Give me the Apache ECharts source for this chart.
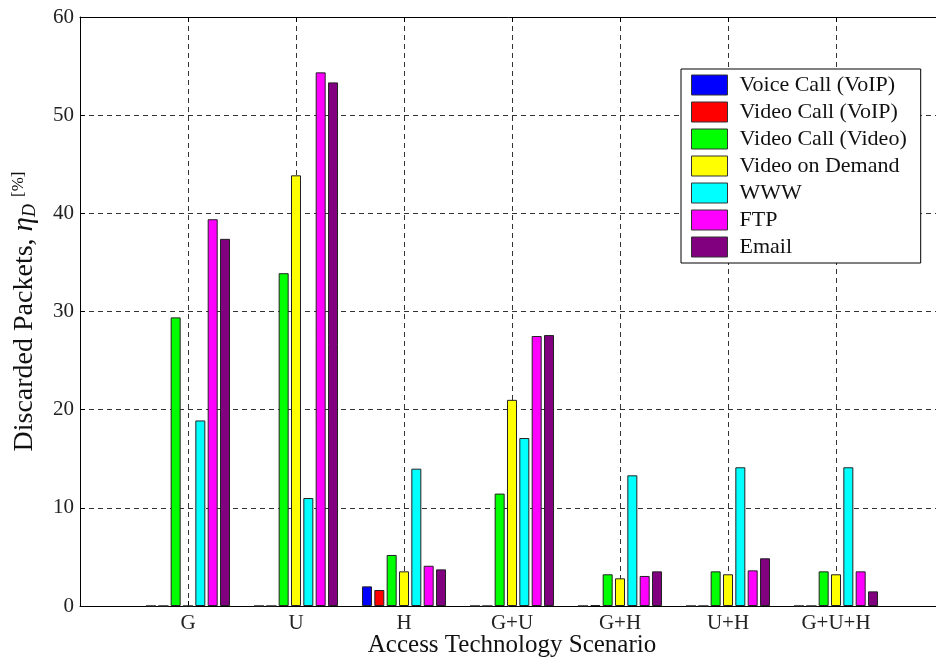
<!DOCTYPE html>
<html>
<head>
<meta charset="utf-8">
<script src="https://cdn.jsdelivr.net/npm/echarts@6/dist/echarts.min.js"></script>
<style>
  html, body { margin: 0; padding: 0; background: #fff; }
  #chart { width: 936px; height: 661px; }
</style>
</head>
<body>
<div id="chart"></div>
<script>
// Access technology scenarios on the horizontal axis
const categories = ['G', 'U', 'H', 'G+U', 'G+H', 'U+H', 'G+U+H'];

// Discarded packets per service class, in percent
const voiceCallVoip  = [0, 0, 2.0, 0, 0, 0, 0];
const videoCallVoip  = [0, 0, 1.63, 0, 0.1, 0, 0];
const videoCallVideo = [29.4, 33.9, 5.2, 11.45, 3.23, 3.53, 3.53];
const videoOnDemand  = [0, 43.87, 3.53, 21.0, 2.82, 3.23, 3.23];
const www            = [18.9, 11.0, 13.99, 17.11, 13.31, 14.13, 14.13];
const ftp            = [39.4, 54.36, 4.1, 27.5, 3.06, 3.63, 3.53];
const email          = [37.4, 53.34, 3.73, 27.6, 3.53, 4.86, 1.49];

const seriesNames = ['Voice Call (VoIP)', 'Video Call (VoIP)', 'Video Call (Video)',
  'Video on Demand', 'WWW', 'FTP', 'Email'];
const seriesValues = [voiceCallVoip, videoCallVoip, videoCallVideo, videoOnDemand, www, ftp, email];
const seriesColors = ['#0000ff', '#ff0000', '#00ff00', '#ffff00', '#00ffff', '#ff00ff', '#800080'];

const yTicks = { min: 0, max: 60, interval: 10 };

const FONT = 'Liberation Serif';

// The x axis runs from an empty slot before the first scenario to one after the last,
// so each scenario sits on a grid line; the plot runs past the right edge of the page.
const axisCats = [''].concat(categories, ['']);

const chart = echarts.init(document.getElementById('chart'), null, { renderer: 'canvas' });

const dashed = { show: true, lineStyle: { color: '#333', width: 1, type: [5, 4] } };

chart.setOption({
  animation: false,
  backgroundColor: '#ffffff',
  grid: { left: 80, width: 864, top: 17, bottom: 55, containLabel: false, outerBoundsMode: 'none' },
  legend: {
    orient: 'vertical',
    left: 681,
    top: 69,
    icon: 'rect',
    itemWidth: 36,
    itemHeight: 20,
    itemGap: 5,
    padding: [5, 14, 5, 10],
    backgroundColor: '#ffffff',
    borderColor: '#000',
    borderWidth: 1,
    borderRadius: 0,
    itemStyle: { borderColor: '#333', borderWidth: 1 },
    textStyle: { fontFamily: FONT, fontSize: 22, color: '#111', padding: [0, 0, 0, 7] },
    data: seriesNames
  },
  xAxis: [{
    type: 'category',
    data: axisCats,
    boundaryGap: false,
    position: 'bottom',
    name: 'Access Technology Scenario',
    nameLocation: 'middle',
    nameGap: 27,
    nameMoveOverlap: false,
    nameTextStyle: { fontFamily: FONT, fontSize: 25, color: '#111' },
    axisLine: { show: true, lineStyle: { color: '#000', width: 1 } },
    axisTick: { show: true, inside: true, length: 5, lineStyle: { color: '#000' } },
    axisLabel: { fontFamily: FONT, fontSize: 21, color: '#222', margin: 7, interval: 0 },
    splitLine: dashed
  }, {
    type: 'category',
    data: axisCats,
    boundaryGap: false,
    position: 'top',
    axisLine: { show: true, lineStyle: { color: '#000', width: 1 } },
    axisTick: { show: true, inside: true, length: 5, lineStyle: { color: '#000' } },
    axisLabel: { show: false },
    splitLine: { show: false }
  }],
  yAxis: {
    type: 'value',
    min: yTicks.min,
    max: yTicks.max,
    interval: yTicks.interval,
    name: 'Discarded Packets, {eta|η}{sub|D} {pct|[%]}',
    nameLocation: 'middle',
    nameGap: 41,
    nameMoveOverlap: false,
    nameTextStyle: {
      fontFamily: FONT, fontSize: 28, color: '#111',
      rich: {
        eta: { fontFamily: FONT, fontSize: 29, fontStyle: 'italic', color: '#111' },
        sub: { fontFamily: FONT, fontSize: 18, fontStyle: 'italic', color: '#111', verticalAlign: 'bottom', lineHeight: 28 },
        pct: { fontFamily: FONT, fontSize: 17, color: '#111', verticalAlign: 'top', lineHeight: 28 }
      }
    },
    axisLine: { show: true, lineStyle: { color: '#000', width: 1 } },
    axisTick: { show: true, inside: true, length: 5, lineStyle: { color: '#000' } },
    axisLabel: { fontFamily: FONT, fontSize: 21, color: '#222', margin: 6 },
    splitLine: dashed
  },
  series: seriesNames.map((name, i) => ({
    name: name,
    type: 'bar',
    xAxisIndex: 0,
    barWidth: 10,
    barGap: '23.4%',
    itemStyle: { color: seriesColors[i], borderColor: '#222', borderWidth: 1 },
    emphasis: { disabled: true },
    data: [null].concat(seriesValues[i], [null])
  }))
});
</script>
</body>
</html>
